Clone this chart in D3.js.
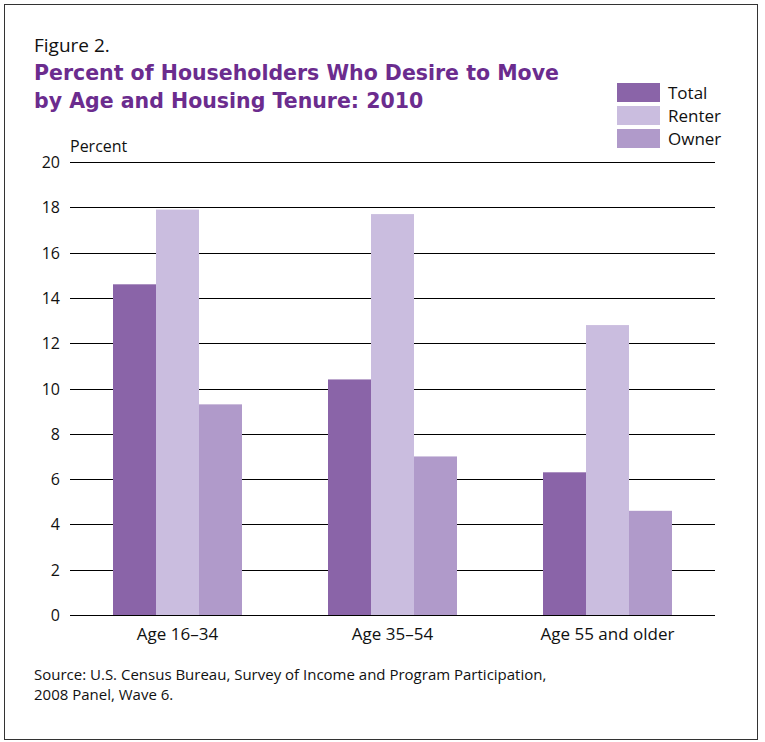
<!DOCTYPE html>
<html><head><meta charset="utf-8">
<script src="https://cdn.jsdelivr.net/npm/d3@7"></script>
<style>body{margin:0;background:#fff}</style>
</head><body><div id="chart"></div>
<script>
var categories = ["Age 16\u201334", "Age 35\u201354", "Age 55 and older"];
var seriesNames = ["Total", "Renter", "Owner"];
var total = [14.6, 10.4, 6.3];
var renter = [17.9, 17.7, 12.8];
var owner = [9.3, 7.0, 4.6];
var yTicks = [0, 2, 4, 6, 8, 10, 12, 14, 16, 18, 20];
var colors = ["#8a64a8", "#cabddf", "#b09aca"];

var svg = d3.select("#chart").append("svg").attr("width", 765).attr("height", 742);
var font = "'Open Sans', sans-serif";

svg.append("rect").attr("x", 4.5).attr("y", 4.5).attr("width", 753).attr("height", 735)
  .attr("fill", "none").attr("stroke", "#333").attr("stroke-width", 1);

svg.append("text").attr("x", 34).attr("y", 52).text("Figure 2.")
  .style("font-family", font).style("font-size", "19px").attr("fill", "#111");
svg.append("text").attr("x", 34).attr("y", 80).text("Percent of Householders Who Desire to Move")
  .style("font-family", "'DejaVu Sans', sans-serif").style("font-weight", "bold").style("font-size", "20.5px").attr("fill", "#6b2c8e");
svg.append("text").attr("x", 34).attr("y", 108).text("by Age and Housing Tenure: 2010")
  .style("font-family", "'DejaVu Sans', sans-serif").style("font-weight", "bold").style("font-size", "20.5px").attr("fill", "#6b2c8e");

var x = d3.scaleBand().domain(categories).range([70, 715]).paddingInner(0.4).paddingOuter(0.2);
var xs = d3.scaleBand().domain(seriesNames).range([0, x.bandwidth()]);
var y = d3.scaleLinear().domain([0, 20]).range([615, 162]);

svg.selectAll(".grid").data(yTicks).enter().append("line")
  .attr("x1", 70).attr("x2", 715)
  .attr("y1", function(d){return Math.round(y(d)) + 0.5;})
  .attr("y2", function(d){return Math.round(y(d)) + 0.5;})
  .attr("stroke", "#000").attr("stroke-width", 1);

svg.selectAll(".ytick").data(yTicks).enter().append("text")
  .attr("x", 60).attr("y", function(d){return y(d) + 6;})
  .attr("text-anchor", "end").text(function(d){return d;})
  .style("font-family", font).style("font-size", "16px").attr("fill", "#111");
svg.append("text").attr("x", 70).attr("y", 152).text("Percent")
  .style("font-family", font).style("font-size", "16px").attr("fill", "#111");

var rows = [];
categories.forEach(function(c, i){
  [total, renter, owner].forEach(function(s, j){
    rows.push({cat: c, ser: seriesNames[j], v: s[i], col: colors[j]});
  });
});
svg.selectAll(".bar").data(rows).enter().append("rect")
  .attr("x", function(d){return x(d.cat) + xs(d.ser);})
  .attr("width", xs.bandwidth())
  .attr("y", function(d){return y(d.v);})
  .attr("height", function(d){return y(0) - y(d.v);})
  .attr("fill", function(d){return d.col;});

svg.selectAll(".xl").data(categories).enter().append("text")
  .attr("x", function(d){return x(d) + x.bandwidth()/2;}).attr("y", 640)
  .attr("text-anchor", "middle").text(function(d){return d;})
  .style("font-family", font).style("font-size", "17px").attr("fill", "#111");

var lg = svg.selectAll(".lg").data(seriesNames).enter().append("g")
  .attr("transform", function(d, i){return "translate(617," + (83 + i*23) + ")";});
lg.append("rect").attr("width", 43).attr("height", 19).attr("fill", function(d, i){return colors[i];});
lg.append("text").attr("x", 51).attr("y", 16).text(function(d){return d;})
  .style("font-family", font).style("font-size", "17px").attr("fill", "#111");

svg.append("text").attr("x", 34).attr("y", 680).text("Source: U.S. Census Bureau, Survey of Income and Program Participation,")
  .style("font-family", font).style("font-size", "15px").attr("fill", "#111");
svg.append("text").attr("x", 34).attr("y", 700).text("2008 Panel, Wave 6.")
  .style("font-family", font).style("font-size", "15px").attr("fill", "#111");
</script></body></html>
